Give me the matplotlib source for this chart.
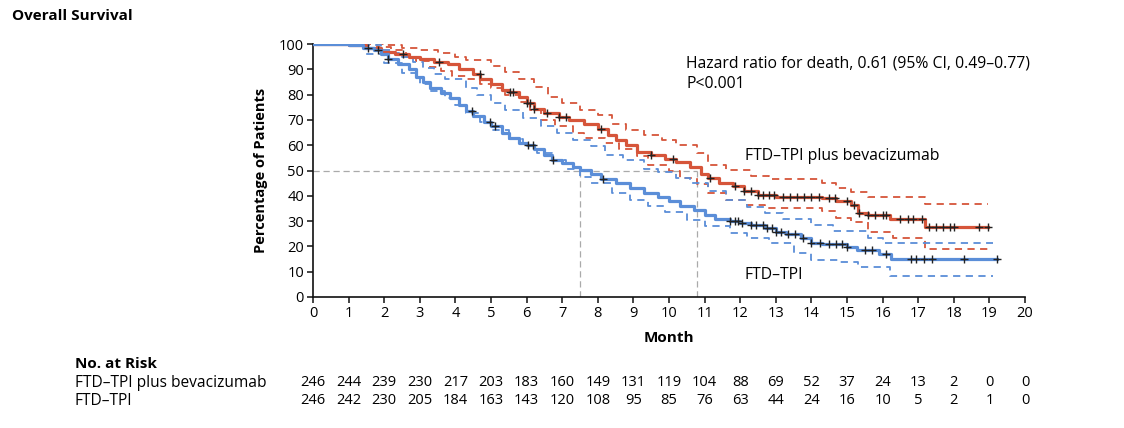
import numpy as np
import matplotlib
matplotlib.use("Agg")
import matplotlib.pyplot as plt
import matplotlib.transforms as mtransforms

plt.rcParams['font.family'] = ['Open Sans', 'DejaVu Sans']

# ---------------- data ----------------
months = list(range(0, 21))

bev_t = [0, 1.0, 1.5, 1.9, 2.3, 2.7, 3.0, 3.4, 3.8, 4.1, 4.5, 4.7, 5.0, 5.3, 5.5, 5.8, 6.0, 6.2,
         6.5, 6.9, 7.2, 7.6, 8.0, 8.3, 8.5, 8.8, 9.1, 9.5, 9.9, 10.2, 10.6, 10.9, 11.1, 11.4, 11.8,
         12.1, 12.5, 13.0, 14.3, 14.7, 15.1, 15.3, 15.6, 16.2, 17.2, 18.95]
bev_s = [100, 99.5, 98.5, 97, 96, 95, 94, 93, 92, 90, 88, 86, 84, 82, 81, 79, 76.5, 74.5,
         72.7, 71, 70, 68.5, 66.5, 64, 62, 60, 57.5, 56, 54.5, 53.5, 51.5, 48.5, 47, 45, 44,
         42, 40.5, 39.5, 39, 38, 36.4, 33.1, 32.5, 30.8, 27.6, 27.6]
bev_up_t = [0, 2.0, 2.5, 3.0, 3.5, 4.0, 4.3, 5.0, 5.4, 5.8, 6.2, 6.6, 7.0, 7.5, 8.0, 8.4, 8.8,
            9.3, 9.8, 10.2, 10.8, 11.1, 11.6, 12.3, 12.8, 14.3, 14.7, 15.1, 15.6, 17.2, 18.95]
bev_up_s = [100, 99.5, 98.5, 97.5, 96.5, 95, 93.5, 91.5, 89, 86, 83, 79, 76.5, 74, 72, 68.5, 66,
            64, 62, 60, 57, 52, 50.3, 48, 46.5, 45, 43, 41.5, 39.5, 36.8, 36.8]
bev_lo_t = [0, 1.8, 2.2, 2.6, 2.9, 3.3, 3.6, 3.9, 4.3, 4.7, 5.0, 5.4, 5.8, 6.1, 6.4, 6.8, 7.3,
            7.6, 8.2, 8.6, 9.1, 9.4, 10.0, 10.3, 10.8, 11.1, 11.6, 12.2, 12.7, 14.3, 14.7, 15.1,
            15.6, 16.3, 17.2, 18.95]
bev_lo_s = [100, 99, 97.5, 95, 93.2, 91, 89.5, 87.3, 86, 84, 82.5, 80, 77, 74, 70, 67.5, 65,
            63, 61, 58.5, 55.6, 52, 50, 47, 44.5, 41, 38.4, 36.5, 35.1, 33.8, 31.2, 29.8,
            25.6, 23.2, 18.9, 18.9]

tpi_t = [0, 1.0, 1.4, 1.7, 1.9, 2.1, 2.4, 2.7, 2.9, 3.1, 3.3, 3.6, 3.85, 4.1, 4.3, 4.5, 4.8,
         5.0, 5.3, 5.5, 5.8, 6.0, 6.2, 6.5, 6.7, 7.0, 7.3, 7.5, 7.8, 8.1, 8.5, 8.9, 9.3, 9.7,
         10.0, 10.3, 10.7, 11.0, 11.3, 11.7, 12.0, 12.3, 12.7, 13.0, 13.3, 13.7, 14.0, 14.3,
         15.0, 15.27, 15.9, 16.24, 19.2]
tpi_s = [100, 99.5, 98.5, 97.5, 96, 94, 92, 90, 87, 85, 82.6, 80.5, 78.7, 76, 73.5, 71.5, 69,
         67.5, 65, 63, 61, 60, 58.5, 56, 54.3, 53, 51.5, 50.3, 48.5, 46.5, 45, 43, 41, 39.5,
         38, 36, 34.5, 32.5, 31, 30, 29.2, 28.5, 27.2, 25.8, 24.8, 23.5, 21.5, 21, 19.7, 18.6,
         16.9, 15, 15]
tpi_up_t = [0, 1.3, 1.9, 2.2, 2.5, 2.8, 3.1, 3.4, 3.7, 4.3, 4.6, 5.0, 5.4, 5.9, 6.4, 6.85, 7.3,
            7.8, 8.2, 8.7, 9.3, 9.7, 10.2, 10.6, 11.1, 11.6, 12.2, 12.7, 13.2, 14.0, 14.6, 15.6,
            16.0, 19.1]
tpi_up_s = [100, 99.8, 97.8, 96.5, 95, 93, 90.6, 88, 86, 82.6, 80, 76.7, 74, 70.8, 67.5, 64.8,
            62, 59.5, 56, 54.3, 50.5, 49.5, 47, 45, 42, 38.4, 35.5, 33.1, 31, 28.5, 25.9, 23.5,
            21.5, 21.5]
tpi_lo_t = [0, 1.2, 1.5, 2.0, 2.5, 3.0, 3.3, 3.7, 4.0, 4.3, 4.7, 5.0, 5.5, 5.9, 6.3, 6.7, 7.1,
            7.5, 7.8, 8.4, 8.9, 9.4, 9.9, 10.5, 11.0, 11.7, 12.2, 12.8, 13.5, 14.0, 14.8, 15.3,
            16.2, 19.1]
tpi_lo_s = [100, 99.1, 96.2, 92.5, 88.6, 84, 81.5, 78.7, 76, 72.7, 69, 66.1, 62.5, 60.2, 57,
            54.3, 50.5, 47.6, 45, 41, 38.5, 35.8, 33.5, 30.5, 28, 25.2, 23.5, 21.2, 17.5, 14.7,
            13.7, 12, 8.3, 8.3]

bev_censor = [1.55, 2.53, 3.54, 4.69, 5.53, 5.62, 6.0, 6.1, 6.2, 6.57, 6.9, 7.1, 8.1, 9.5,
              10.1, 11.15, 11.85, 12.1, 12.3, 12.5, 12.65, 12.8, 12.95, 13.2, 13.4, 13.6, 13.8,
              14.0, 14.2, 14.5, 14.65, 15.0, 15.2, 15.35, 15.6, 15.8, 16.0, 16.1, 16.5, 16.7,
              16.85, 17.1, 17.3, 17.5, 17.7, 17.9, 18.0, 18.7, 18.95]
tpi_censor = [1.83, 2.1, 4.47, 4.98, 5.12, 6.04, 6.18, 6.74, 8.15, 11.7, 11.85, 11.95, 12.05,
              12.3, 12.45, 12.65, 12.75, 12.9, 13.0, 13.15, 13.35, 13.55, 13.75, 14.0, 14.25,
              14.5, 14.7, 14.85, 15.0, 15.5, 15.7, 16.1, 16.8, 16.95, 17.15, 17.4, 18.3, 19.2]

median_bev = 10.8
median_tpi = 7.5

risk_bev = [246, 244, 239, 230, 217, 203, 183, 160, 149, 131, 119, 104, 88, 69, 52, 37, 24, 13, 2, 0, 0]
risk_tpi = [246, 242, 230, 205, 184, 163, 143, 120, 108, 95, 85, 76, 63, 44, 24, 16, 10, 5, 2, 1, 0]

label_bev = "FTD\u2013TPI plus bevacizumab"
label_tpi = "FTD\u2013TPI"

# ---------------- styling ----------------
RED = '#d6553a'
BLUE = '#5b8ed8'
W, H = 1124, 428

fig = plt.figure(figsize=(W / 100, H / 100), dpi=100)
ax = fig.add_axes([313 / W, 1 - 297 / H, (1025 - 313) / W, (297 - 44) / H])


def step_at(ts, ss, x):
    i = np.searchsorted(ts, x, side='right') - 1
    return np.asarray(ss)[i]


# CI dashed
for t, s, c in [(bev_up_t, bev_up_s, RED), (bev_lo_t, bev_lo_s, RED),
                (tpi_up_t, tpi_up_s, BLUE), (tpi_lo_t, tpi_lo_s, BLUE)]:
    ax.step(t, s, where='post', color=c, lw=1.3, ls=(0, (4, 3)), zorder=2)

# median reference lines
ax.plot([0, median_bev], [50, 50], color='#aaaaaa', lw=0.9, ls=(0, (5, 3)), zorder=1)
ax.plot([median_tpi, median_tpi], [0, 50], color='#aaaaaa', lw=0.9, ls=(0, (5, 3)), zorder=1)
ax.plot([median_bev, median_bev], [0, 50], color='#aaaaaa', lw=0.9, ls=(0, (5, 3)), zorder=1)

# main curves
ax.step(bev_t, bev_s, where='post', color=RED, lw=2.3, zorder=3)
ax.step(tpi_t, tpi_s, where='post', color=BLUE, lw=2.3, zorder=3)

# censor marks
ax.plot(bev_censor, [step_at(bev_t, bev_s, x) for x in bev_censor], ls='none',
        marker='+', ms=6, mew=1.0, color='#222222', zorder=4)
ax.plot(tpi_censor, [step_at(tpi_t, tpi_s, x) for x in tpi_censor], ls='none',
        marker='+', ms=6, mew=1.0, color='#222222', zorder=4)

ax.set_xlim(0, 20)
ax.set_ylim(0, 100)
ax.set_xticks(months)
ax.set_yticks(range(0, 101, 10))
for sp in ['top', 'right']:
    ax.spines[sp].set_visible(False)
for sp in ['left', 'bottom']:
    ax.spines[sp].set_linewidth(1.2)
    ax.spines[sp].set_color('#111111')
ax.tick_params(axis='both', direction='out', length=4.5, width=1.1, labelsize=10.5,
               color='#111111', pad=2)

ax.set_xlabel('Month', fontsize=11, fontweight='bold', labelpad=7)
ax.set_ylabel('Percentage of Patients', fontsize=10.5, fontweight='bold', labelpad=8)

TXT = 11.3
ax.text(686 / W, 1 - 63 / H, "Hazard ratio for death, 0.61 (95% CI, 0.49\u20130.77)",
        transform=fig.transFigure, fontsize=TXT, va='center', ha='left')
ax.text(686 / W, 1 - 84 / H, "P<0.001", transform=fig.transFigure, fontsize=TXT,
        va='center', ha='left')
ax.text(745 / W, 1 - 156 / H, label_bev, transform=fig.transFigure, fontsize=TXT,
        va='center', ha='left')
ax.text(745 / W, 1 - 275 / H, label_tpi, transform=fig.transFigure, fontsize=TXT,
        va='center', ha='left')

fig.text(12 / W, 1 - 16 / H, "Overall Survival", fontsize=11, fontweight='bold',
         va='center', ha='left')

# risk table
fig.text(75 / W, 1 - 364 / H, "No. at Risk", fontsize=11, fontweight='bold',
         va='center', ha='left')
fig.text(75 / W, 1 - 383 / H, label_bev, fontsize=11.2, va='center', ha='left')
fig.text(75 / W, 1 - 401 / H, label_tpi, fontsize=11.2, va='center', ha='left')
trans = mtransforms.blended_transform_factory(ax.transData, fig.transFigure)
for m, a, b in zip(months, risk_bev, risk_tpi):
    ax.text(m, 1 - 383 / H, str(a), transform=trans, fontsize=10.5, ha='center',
            va='center', clip_on=False)
    ax.text(m, 1 - 401 / H, str(b), transform=trans, fontsize=10.5, ha='center',
            va='center', clip_on=False)

fig.savefig('out.png', dpi=100)
